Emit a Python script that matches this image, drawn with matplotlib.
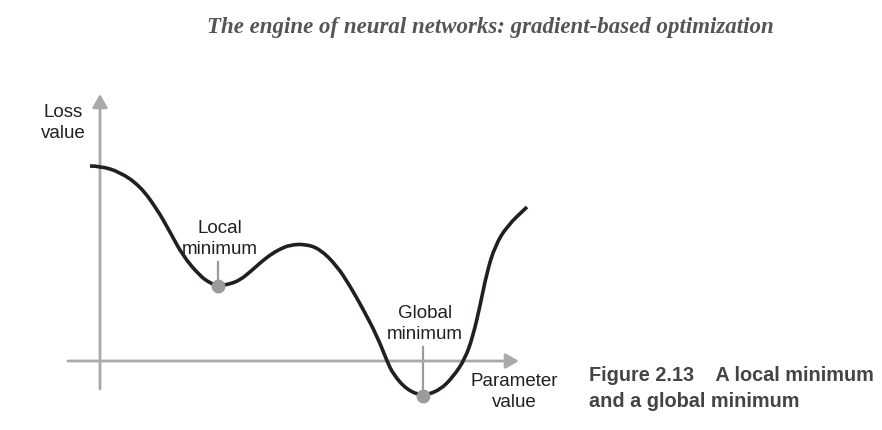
import matplotlib
matplotlib.use('Agg')
import matplotlib.pyplot as plt
from matplotlib.path import Path
from matplotlib.patches import PathPatch

# curve: parameter value vs loss value
param = [-10, 0, 20, 40, 57, 70, 83, 100, 110, 118, 130, 140, 150, 160, 170, 180, 190,
         205, 220, 237, 250, 263, 277, 287, 293, 307, 323, 340, 353, 365, 373, 380,
         387, 395, 407, 427]
loss = [195, 195, 189, 175, 152, 129, 105, 85, 78, 75, 77, 81, 89, 98, 106, 112, 116,
        117, 112, 95, 75, 52, 25, 0, -13, -29, -35, -29, -16, 2, 25, 55,
        89, 115, 135, 154]

minima = {'Local\nminimum': (118, 75), 'Global\nminimum': (323, -35)}
label_offset = {'Local\nminimum': 24, 'Global\nminimum': 49}

axis_gray = '#a9a9a9'
dot_gray = '#9b9b9b'

fig = plt.figure(figsize=(8.82, 4.31), dpi=100)
ax = fig.add_axes([0, 0, 1, 1])
ax.set_xlim(-100, 782)
ax.set_ylim(-69, 362)
ax.axis('off')

# axes with arrow heads
arrow = dict(arrowstyle='-|>,head_length=0.8,head_width=0.45', color=axis_gray,
             lw=2, shrinkA=0, shrinkB=0)
ax.annotate('', xy=(0, 267), xytext=(0, -28), arrowprops=arrow)
ax.annotate('', xy=(419, 0), xytext=(-32, 0), arrowprops=arrow)

# smooth curve: the read points act as quadratic bezier control points
pts = list(zip(param, loss))
verts = [pts[0]]
codes = [Path.MOVETO]
for i in range(1, len(pts) - 1):
    mid = ((pts[i][0] + pts[i + 1][0]) / 2, (pts[i][1] + pts[i + 1][1]) / 2)
    verts += [pts[i], mid]
    codes += [Path.CURVE3, Path.CURVE3]
verts.append(pts[-1])
codes.append(Path.LINETO)
ax.add_patch(PathPatch(Path(verts, codes), facecolor='none', edgecolor='#231f20',
                       lw=2.6, capstyle='butt', joinstyle='round', zorder=3))

font = dict(family='Liberation Sans', fontsize=13.5, color='#231f20',
            ha='center', va='center', linespacing=1.25)
for name, (px, py) in minima.items():
    ax.plot([px, px], [py, py + label_offset[name]], color=dot_gray, lw=1.6, zorder=2)
    ax.plot(px, py, 'o', color=dot_gray, ms=9, zorder=4)
    ax.text(px + 2, py + label_offset[name] + 24, name, **font)

ax.text(-37, 239, 'Loss\nvalue', **font)
ax.text(414, -30, 'Parameter\nvalue', **font)

fig.text(490 / 882, 1 - 27 / 431,
         'The engine of neural networks: gradient-based optimization',
         family='Liberation Serif', style='italic', weight='bold', fontsize=16.5,
         color='#555555', ha='center', va='center')
fig.text(589 / 882, 1 - 376 / 431, 'Figure 2.13    A local minimum',
         family='Liberation Sans', weight='bold', fontsize=14.3, color='#444444',
         ha='left', va='center')
fig.text(589 / 882, 1 - 402 / 431, 'and a global minimum',
         family='Liberation Sans', weight='bold', fontsize=14.3, color='#444444',
         ha='left', va='center')

fig.savefig('out.png', dpi=100)
